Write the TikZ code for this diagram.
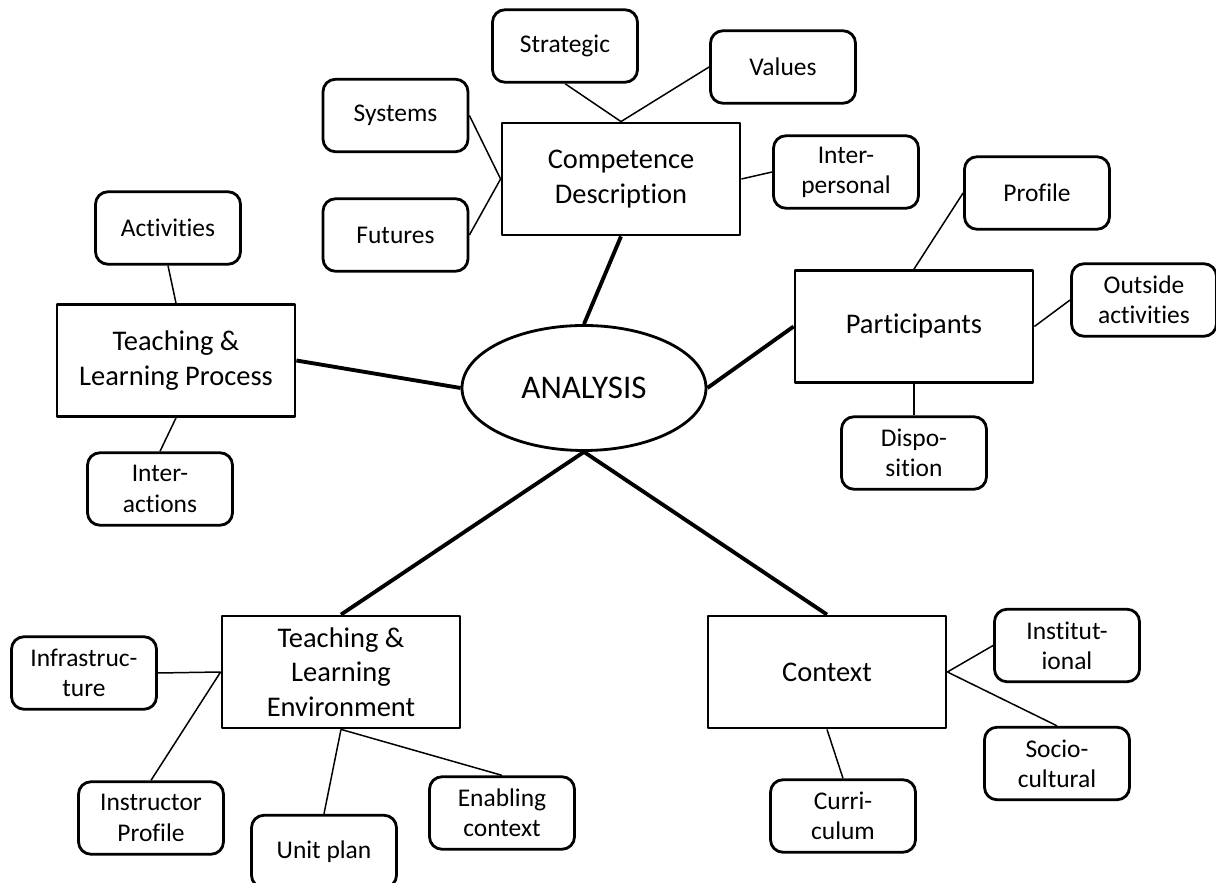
\documentclass[tikz,border=0pt]{standalone}
\usepackage{fontspec}
\setmainfont{Carlito}[Ligatures=NoCommon]
\usepackage{tikz}
\usetikzlibrary{shapes}
\begin{document}
\begin{tikzpicture}[line join=round]
\tikzstyle{leaf}=[rectangle,draw,line width=1.6pt,rounded corners=.25cm,minimum width=2.9cm,minimum height=1.45cm,align=center,font=\fontsize{14.5}{17.2}\selectfont]
\tikzstyle{topic}=[rectangle,draw,line width=1.6pt,minimum width=4.76cm,minimum height=2.24cm,align=center,font=\fontsize{16.2}{19.6}\selectfont]
\tikzstyle{core}=[ellipse,draw,line width=1.6pt,inner sep=0pt,minimum width=4.88cm,minimum height=2.5cm,font=\fontsize{18.8}{22}\selectfont]
\tikzstyle{twig}=[line width=.85pt]
\tikzstyle{branch}=[line width=2.2pt]
\useasboundingbox(0,0)rectangle(24.32,17.66);
\node(analysis)at(11.68,9.90)[core]{ANALYSIS};
\node(comp)at(12.42,14.08)[topic]{Competence\\Description};
\node(tlp)at(3.52,10.45)[topic]{Teaching \&\\Learning Process};
\node(part)at(18.28,11.13)[topic]{Participants};
\node(tle)at(6.82,4.22)[topic]{Teaching \&\\Learning\\Environment};
\node(context)at(16.54,4.22)[topic]{Context};
\node(strat)at(11.30,16.74)[leaf]{Strategic};
\node(values)at(15.66,16.32)[leaf]{Values};
\node(systems)at(7.91,15.35)[leaf]{Systems};
\node(futures)at(7.91,12.96)[leaf]{Futures};
\node(interp)at(16.92,14.22)[leaf]{Inter-\\personal};
\node(profile)at(20.74,13.80)[leaf]{Profile};
\node(outside)at(22.88,11.66)[leaf]{Outside\\activities};
\node(dispo)at(18.28,8.60)[leaf]{Dispo-\\sition};
\node(activ)at(3.36,13.10)[leaf]{Activities};
\node(interact)at(3.20,7.88)[leaf]{Inter-\\actions};
\node(infra)at(1.68,4.20)[leaf]{Infrastruc-\\ture};
\node(instr)at(3.02,1.30)[leaf]{Instructor\\Profile};
\node(unit)at(6.48,0.63)[leaf]{Unit plan};
\node(enabl)at(10.04,1.40)[leaf]{Enabling\\context};
\node(instit)at(21.34,4.75)[leaf]{Institut-\\ional};
\node(socio)at(21.14,2.39)[leaf]{Socio-\\cultural};
\node(curri)at(16.86,1.34)[leaf]{Curri-\\culum};
\draw[branch](comp.south)--(analysis.north);
\draw[branch](tlp.east)--(analysis.west);
\draw[branch](part.west)--(analysis.east);
\draw[branch](analysis.south)--(tle.north);
\draw[branch](analysis.south)--(context.north);
\draw[twig](strat.south)--(comp.north);
\draw[twig](values.west)--(comp.north);
\draw[twig](systems.east)--(comp.west);
\draw[twig](futures.east)--(comp.west);
\draw[twig](comp.east)--(interp.west);
\draw[twig](part.north)--(profile.west);
\draw[twig](part.east)--(outside.west);
\draw[twig](part.south)--(dispo.north);
\draw[twig](activ.south)--(tlp.north);
\draw[twig](tlp.south)--(interact.north);
\draw[twig](infra.east)--(tle.west);
\draw[twig](instr.north)--(tle.west);
\draw[twig](tle.south)--(unit.north);
\draw[twig](tle.south)--(enabl.north);
\draw[twig](context.east)--(instit.west);
\draw[twig](context.east)--(socio.north);
\draw[twig](context.south)--(curri.north);
\end{tikzpicture}
\end{document}
